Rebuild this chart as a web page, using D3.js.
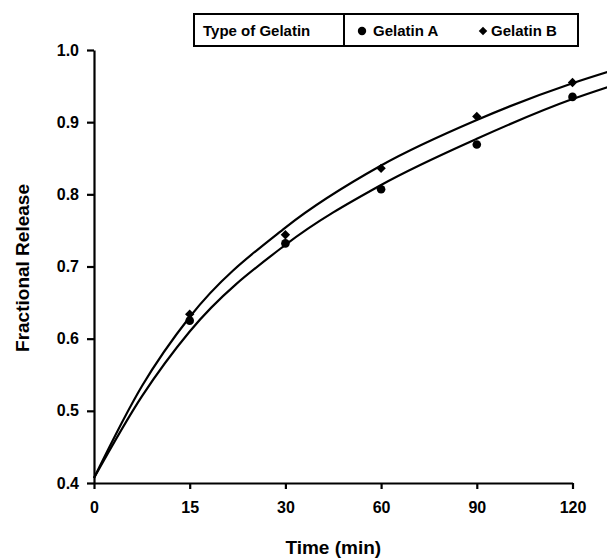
<!DOCTYPE html>
<html>
<head>
<meta charset="utf-8">
<script src="https://cdn.jsdelivr.net/npm/d3@7"></script>
<style>
  body { margin: 0; background: #fff; }
  text { font-family: "Liberation Sans", Arial, sans-serif; font-weight: bold; fill: #000; }
</style>
</head>
<body>
<script>
var width = 607,
    height = 558;

// time points (plotted evenly spaced, as in the original)
var timeLabels = ["0", "15", "30", "60", "90", "120"];
var yTicks = [0.4, 0.5, 0.6, 0.7, 0.8, 0.9, 1.0];

// measured points (index 1..5 -> 15..120 min)
var gelA = [0.625, 0.732, 0.807, 0.869, 0.935];
var gelB = [0.634, 0.744, 0.836, 0.908, 0.955];

// fitted curves, [position index, value]
var fitA = [[0, 0.407], [0.5, 0.520], [1, 0.610], [2, 0.730], [3, 0.813], [4, 0.877], [5, 0.932], [5.4, 0.950]];
var fitB = [[0, 0.407], [0.5, 0.534], [1, 0.630], [2, 0.754], [3, 0.840], [4, 0.903], [5, 0.954], [5.4, 0.971]];

var svg = d3.select("body").append("svg")
    .attr("width", width)
    .attr("height", height);

var x = d3.scaleLinear().domain([0, 5]).range([94, 572.5]);
var y = d3.scaleLinear().domain([0.4, 1.0]).range([483, 50]);

// curves
var line = d3.line()
    .x(function (d) { return x(d[0]); })
    .y(function (d) { return y(d[1]); })
    .curve(d3.curveMonotoneX);

[fitA, fitB].forEach(function (f) {
    svg.append("path")
        .datum(f)
        .attr("d", line)
        .attr("fill", "none")
        .attr("stroke", "#000")
        .attr("stroke-width", 2.2);
});

// axes
var xAxis = svg.append("g")
    .attr("transform", "translate(0," + y(0.4) + ")")
    .call(d3.axisBottom(x).tickValues(d3.range(timeLabels.length))
        .tickFormat(function (i) { return timeLabels[i]; })
        .tickSizeInner(6).tickSizeOuter(0).tickPadding(13));

var yAxis = svg.append("g")
    .attr("transform", "translate(" + x(0) + ",0)")
    .call(d3.axisLeft(y).tickValues(yTicks)
        .tickFormat(d3.format(".1f"))
        .tickSizeInner(7).tickSizeOuter(0).tickPadding(8));

[xAxis, yAxis].forEach(function (g) {
    g.select(".domain").attr("stroke", "#000").attr("stroke-width", 2.2);
    g.selectAll(".tick line").attr("stroke", "#000").attr("stroke-width", 2.2);
    g.selectAll(".tick text")
        .style("font-size", "16px")
        .style("font-weight", "bold")
        .style("font-family", "Liberation Sans, Arial, sans-serif")
        .attr("fill", "#000");
});

// markers
svg.selectAll("circle.a").data(gelA)
    .enter().append("circle")
    .attr("class", "a")
    .attr("cx", function (d, i) { return x(i + 1); })
    .attr("cy", function (d) { return y(d); })
    .attr("r", 4.3)
    .attr("fill", "#000");

var diamond = d3.symbol().type(d3.symbolSquare).size(44);
svg.selectAll("path.b").data(gelB)
    .enter().append("path")
    .attr("class", "b")
    .attr("d", diamond)
    .attr("transform", function (d, i) { return "translate(" + x(i + 1) + "," + y(d) + ") rotate(45)"; })
    .attr("fill", "#000");

// axis titles
svg.append("text")
    .attr("x", x(2.5))
    .attr("y", 554)
    .attr("text-anchor", "middle")
    .style("font-size", "19px")
    .text("Time (min)");

svg.append("text")
    .attr("transform", "translate(29,268) rotate(-90)")
    .attr("text-anchor", "middle")
    .style("font-size", "19px")
    .text("Fractional Release");

// legend
var lg = svg.append("g");
lg.append("rect")
    .attr("x", 194).attr("y", 14)
    .attr("width", 384).attr("height", 32)
    .attr("fill", "#fff").attr("stroke", "#000").attr("stroke-width", 2);
lg.append("line")
    .attr("x1", 344).attr("x2", 344).attr("y1", 14).attr("y2", 46)
    .attr("stroke", "#000").attr("stroke-width", 2);
lg.append("text")
    .attr("x", 203).attr("y", 36)
    .style("font-size", "15px")
    .text("Type of Gelatin");
lg.append("circle")
    .attr("cx", 362).attr("cy", 31).attr("r", 4.2).attr("fill", "#000");
lg.append("text")
    .attr("x", 373).attr("y", 36)
    .style("font-size", "15px")
    .text("Gelatin A");
lg.append("path")
    .attr("d", d3.symbol().type(d3.symbolSquare).size(36))
    .attr("transform", "translate(483,31) rotate(45)")
    .attr("fill", "#000");
lg.append("text")
    .attr("x", 491).attr("y", 36)
    .style("font-size", "15px")
    .text("Gelatin B");
</script>
</body>
</html>
